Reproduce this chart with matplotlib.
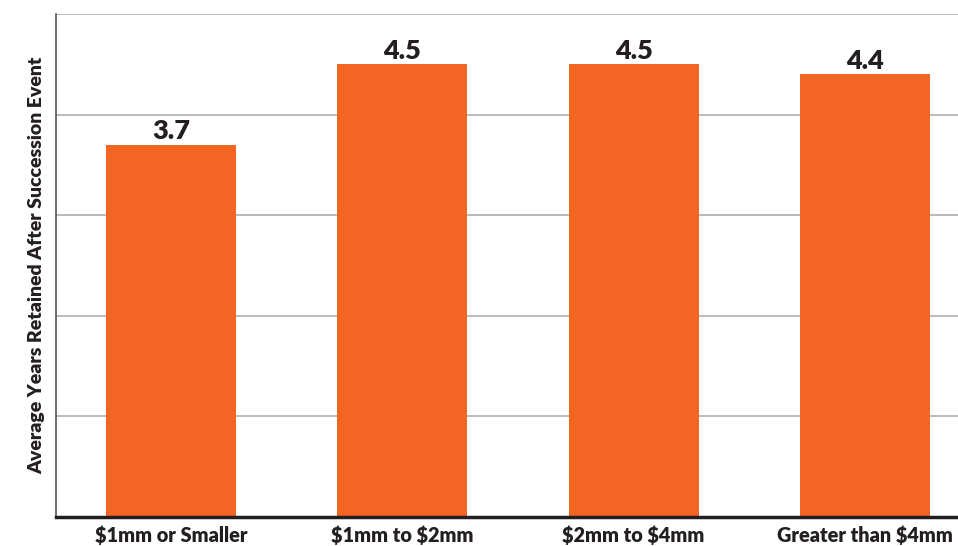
import matplotlib

matplotlib.use("Agg")
import matplotlib.pyplot as plt

categories = ["$1mm or Smaller", "$1mm to $2mm", "$2mm to $4mm", "Greater than $4mm"]
years_retained = [3.7, 4.5, 4.5, 4.4]
value_labels = ["3.7", "4.5", "4.5", "4.4"]
y_label = "Average Years Retained After Succession Event"

BAR_COLOR = "#F26522"
TEXT_COLOR = "#231F20"

plt.rcParams["font.family"] = ["Lato", "DejaVu Sans"]
plt.rcParams["text.parse_math"] = False

fig = plt.figure(figsize=(9.58, 5.46), dpi=100)
ax = fig.add_axes([0.0585, 0.0531, 0.9415, 0.9213])

x = range(len(categories))
bars = ax.bar(x, years_retained, width=0.562, color=BAR_COLOR, zorder=3)

for bar, txt in zip(bars, value_labels):
    ax.text(
        bar.get_x() + bar.get_width() / 2,
        bar.get_height() + 0.015,
        txt,
        ha="center",
        va="bottom",
        fontsize=19.5,
        fontweight="heavy",
        color=TEXT_COLOR,
    )

ax.set_xlim(-0.497, 3.402)
ax.set_ylim(0, 5)
ax.set_yticks([1, 2, 3, 4, 5])
ax.set_yticklabels([])
ax.yaxis.grid(True, color="#b5b5b5", linewidth=1.3, zorder=0)
ax.tick_params(axis="both", length=0)

ax.set_xticks(list(x))
ax.set_xticklabels(categories, fontsize=14.3, fontweight="heavy", color=TEXT_COLOR)
ax.tick_params(axis="x", pad=6)

ax.set_ylabel(y_label, fontsize=14, fontweight="heavy", color=TEXT_COLOR, labelpad=4)

for side in ["top", "right"]:
    ax.spines[side].set_visible(False)
ax.spines["left"].set_color("#555555")
ax.spines["left"].set_linewidth(1.2)
ax.spines["bottom"].set_color(TEXT_COLOR)
ax.spines["bottom"].set_linewidth(2.5)
ax.spines["bottom"].set_zorder(4)

fig.savefig("out.png", dpi=100)
